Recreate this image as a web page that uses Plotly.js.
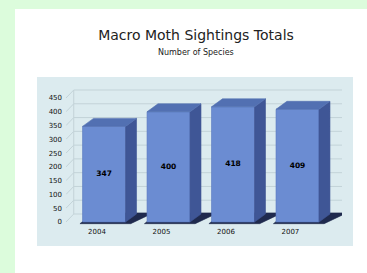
<!DOCTYPE html>
<html>
<head>
<meta charset="utf-8">
<script src="https://cdn.plot.ly/plotly-3.0.1.min.js"></script>
<style>
html,body{margin:0;padding:0;background:#dcfcdc;}
#chart{width:367px;height:273px;}
</style>
</head>
<body>
<div id="chart"></div>
<script>
// ---- data ----
const years = ["2004", "2005", "2006", "2007"];
const species = [347, 400, 418, 409];
const yTicks = [0, 50, 100, 150, 200, 250, 300, 350, 400, 450];

// ---- 3D styling parameters (in axis units) ----
const barShift = 0.11, barW = 0.667;   // bar offset from label position, front face width
const dx = 0.17, dy = 29;              // depth of the 3D extrusion
const wallDx = 0.12;                   // depth of the back wall
const xMin = -0.48, xMax = 3.80, yMin = -14.5, yMax = 515.3;

function polyTrace(polys, color, lineColor) {
  const xs = [], ys = [];
  polys.forEach(p => { p.forEach(pt => { xs.push(pt[0]); ys.push(pt[1]); }); xs.push(p[0][0]); ys.push(p[0][1]); xs.push(null); ys.push(null); });
  return {type: 'scatter', mode: 'lines', x: xs, y: ys, fill: 'toself', fillcolor: color,
          line: {color: lineColor || color, width: 0.6}, hoverinfo: 'skip', showlegend: false};
}

// back wall gridlines
const gx = [], gy = [];
yTicks.forEach(v => {
  gx.push(xMin, xMin + wallDx, xMax, null);
  gy.push(v, v + dy, v + dy, null);
});
gx.push(xMin + wallDx, xMin + wallDx, null); gy.push(dy, yTicks[yTicks.length - 1] + dy, null);
const grid = {type: 'scatter', mode: 'lines', x: gx, y: gy, line: {color: '#c3d3d8', width: 1},
              hoverinfo: 'skip', showlegend: false};

const bases = [], fronts = [], sides = [], tops = [];
const lx = [], ly = [], lt = [];
species.forEach((v, i) => {
  const x0 = i + barShift - barW / 2, x1 = i + barShift + barW / 2;
  bases.push([[x0 - 0.04, -6], [x1 + 0.08, -6], [x1 + dx + 0.26, dy + 4], [x0 + dx, dy + 4]]);
  fronts.push([[x0, 0], [x1, 0], [x1, v], [x0, v]]);
  sides.push([[x1, 0], [x1 + dx, dy], [x1 + dx, v + dy], [x1, v]]);
  tops.push([[x0, v], [x1, v], [x1 + dx, v + dy], [x0 + dx, v + dy]]);
  lx.push(i + barShift); ly.push(v / 2); lt.push('<b>' + v + '</b>');
});

const traces = [
  grid,
  polyTrace(bases, '#1f2a4e'),
  polyTrace(fronts, '#6b8cd2', '#5a7bbf'),
  polyTrace(sides, '#3f5696'),
  polyTrace(tops, '#5270b2'),
  {type: 'scatter', mode: 'text', x: lx, y: ly, text: lt, textposition: 'middle center',
   textfont: {family: 'DejaVu Sans', size: 7.5, color: '#000'}, hoverinfo: 'skip', showlegend: false}
];

const L = 66, R = 342, T = 80, B = 226;
const W = R - L, H = B - T;
const px = p => (p - L) / W, py = p => (B - p) / H;

const layout = {
  width: 367, height: 273,
  margin: {l: L, r: 367 - R, t: T, b: 273 - B, pad: 0},
  paper_bgcolor: '#dcfcdc', plot_bgcolor: 'rgba(0,0,0,0)',
  font: {family: 'DejaVu Sans', color: '#222'},
  showlegend: false,
  title: {text: 'Macro Moth Sightings Totals', x: 196 / 367, xanchor: 'center',
          y: 1 - 35 / 273, yanchor: 'middle', yref: 'container',
          font: {family: 'DejaVu Sans', size: 14, color: '#222'}},
  annotations: [{text: 'Number of Species', xref: 'paper', yref: 'paper', x: px(196), y: py(53),
                 xanchor: 'center', yanchor: 'middle', showarrow: false,
                 font: {family: 'DejaVu Sans', size: 8, color: '#222'}}],
  shapes: [
    {type: 'rect', xref: 'paper', yref: 'paper', x0: px(15), x1: px(380), y0: py(290), y1: py(9),
     fillcolor: '#ffffff', line: {width: 0}, layer: 'below'},
    {type: 'rect', xref: 'paper', yref: 'paper', x0: px(37), x1: px(353), y0: py(246), y1: py(77),
     fillcolor: '#dcebef', line: {width: 0}, layer: 'below'}
  ],
  xaxis: {range: [xMin, xMax], tickvals: [0, 1, 2, 3], ticktext: years, showgrid: false, zeroline: false,
          showline: false, ticks: '', tickfont: {family: 'DejaVu Sans', size: 7, color: '#111'}, fixedrange: true},
  yaxis: {range: [yMin, yMax], tickvals: yTicks, ticktext: yTicks.map(String), showgrid: false, zeroline: false,
          showline: false, ticks: '', ticklabelstandoff: 3, tickfont: {family: 'DejaVu Sans', size: 7, color: '#111'}, fixedrange: true}
};

Plotly.newPlot('chart', traces, layout, {displayModeBar: false, staticPlot: true});
</script>
</body>
</html>
